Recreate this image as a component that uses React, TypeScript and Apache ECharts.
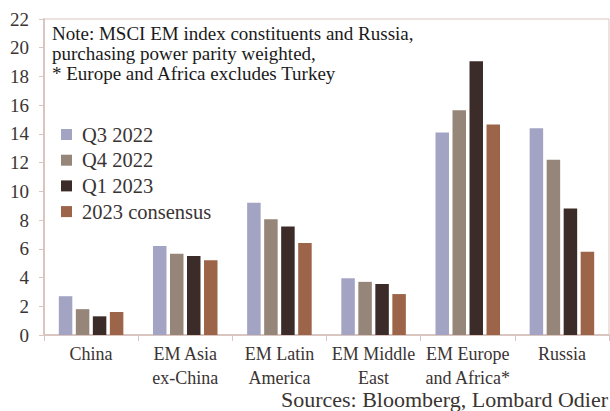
import React, { useEffect, useRef } from "react";
import * as echarts from "echarts";

const categories = ["China", "EM Asia\nex-China", "EM Latin\nAmerica", "EM Middle\nEast", "EM Europe\nand Africa*", "Russia"];
const seriesNames = ["Q3 2022", "Q4 2022", "Q1 2023", "2023 consensus"];
const q32022 = [2.7, 6.2, 9.2, 3.95, 14.1, 14.4];
const q42022 = [1.8, 5.65, 8.05, 3.7, 15.65, 12.2];
const q12023 = [1.3, 5.5, 7.55, 3.55, 19.05, 8.8];
const consensus2023 = [1.6, 5.2, 6.4, 2.85, 14.65, 5.8];
const yTicks = { min: 0, max: 22, interval: 2 };
const colors = ["#a3a3c3", "#968679", "#3b2c29", "#9c6448"];
const noteText = "Note: MSCI EM index constituents and Russia,\npurchasing power parity weighted,\n* Europe and Africa excludes Turkey";
const sourceText = "Sources: Bloomberg, Lombard Odier";

const FONT = "'Liberation Serif', serif";
const TEXT = "#3a3433";
const AXIS = "#d9c6c0";

export default function App() {
  const ref = useRef<HTMLDivElement>(null);
  useEffect(() => {
    if (!ref.current) return;
    const chart = echarts.init(ref.current, undefined, { renderer: "svg" });
    const data = [q32022, q42022, q12023, consensus2023];
    chart.setOption({
      animation: false,
      textStyle: { fontFamily: FONT, color: TEXT },
      grid: { left: 44, right: 1, top: 19, bottom: 76, show: true, borderColor: AXIS, borderWidth: 1 },
      legend: {
        orient: "vertical",
        left: 61,
        top: 124,
        padding: 0,
        itemWidth: 11,
        itemHeight: 11,
        itemGap: 4.7,
        icon: "rect",
        data: seriesNames,
        textStyle: { fontFamily: FONT, fontSize: 20.5, lineHeight: 20, color: TEXT, padding: [0, 0, 0, 5] },
      },
      xAxis: {
        type: "category",
        data: categories,
        axisLine: { lineStyle: { color: AXIS, width: 2 } },
        axisTick: { show: true, length: 6, lineStyle: { color: AXIS, width: 1 } },
        axisLabel: { fontFamily: FONT, fontSize: 18, color: TEXT, lineHeight: 24, margin: 7, interval: 0 },
      },
      yAxis: {
        type: "value",
        min: yTicks.min,
        max: yTicks.max,
        interval: yTicks.interval,
        splitLine: { show: false },
        axisLine: { show: true, lineStyle: { color: AXIS, width: 2 } },
        axisTick: { show: true, length: 5, lineStyle: { color: AXIS } },
        axisLabel: { fontFamily: FONT, fontSize: 19, color: TEXT, margin: 15 },
      },
      graphic: [
        {
          type: "text",
          left: 52,
          top: 23,
          style: { text: noteText, font: `19px ${FONT}`, fill: "#1a1a1a", lineHeight: 20 },
        },
        {
          type: "text",
          right: 2,
          top: 388,
          style: { text: sourceText, font: `22px ${FONT}`, fill: TEXT, lineHeight: 16 },
        },
      ],
      series: seriesNames.map((name, i) => ({
        name,
        type: "bar",
        data: data[i],
        barWidth: 13.5,
        barGap: "26%",
        itemStyle: { color: colors[i] },
      })),
    });
    return () => chart.dispose();
  }, []);
  return <div ref={ref} style={{ width: 610, height: 411, position: "absolute", left: 0, top: 0, background: "#fff" }} />;
}
